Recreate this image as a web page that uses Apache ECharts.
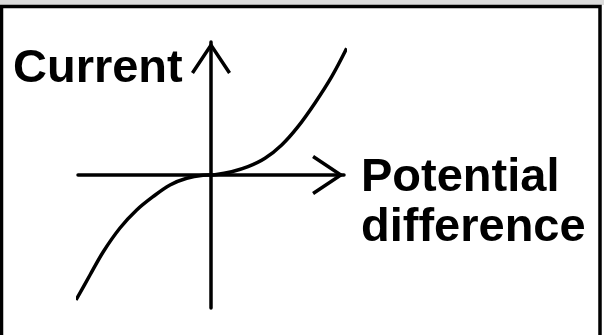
<!DOCTYPE html>
<html>
<head>
<meta charset="utf-8">
<script src="https://cdn.jsdelivr.net/npm/echarts@6/dist/echarts.min.js"></script>
<style>
html,body{margin:0;padding:0;background:#fff;}
#c{width:604px;height:335px;}
</style>
</head>
<body>
<div id="c"></div>
<script>
// Curve (arbitrary units: potential difference vs current)
var voltage = [-13.5, -12.1, -10.77, -9.1, -7.43, -5.8, -4.1, -2.43, -0.8, 0, 0.4, 2.07, 3.7, 5.4, 7.07, 8.7, 10.4, 12.07, 13.57];
var current = [-12.5, -10.0, -7.67, -5.3, -3.5, -2.17, -1.0, -0.33, -0.03, 0, 0.02, 0.33, 0.83, 1.67, 3.0, 4.83, 7.2, 9.83, 12.67];
var axisRange = [-13.3, 13.3];
var labelY = 'Current';
var labelX = ['Potential', 'difference'];

var pts = voltage.map(function (v, i) { return [v, current[i]]; });
var chevron = 'path://M20,0 L40,29.95 L37.09,31.89 L20,6.3 L2.91,31.89 L0,29.95 Z';
var FONT = 'bold 47px "Liberation Sans", Arial, sans-serif';

var axisCommon = {
  type: 'value',
  min: axisRange[0],
  max: axisRange[1],
  axisLine: {
    show: true,
    onZero: true,
    symbol: ['none', chevron],
    symbolSize: [40, 31.9],
    symbolOffset: [0, -15.95],
    lineStyle: { color: '#000', width: 3.5 }
  },
  axisTick: { show: false },
  axisLabel: { show: false },
  splitLine: { show: false }
};

var chart = echarts.init(document.getElementById('c'), null, { renderer: 'canvas' });
chart.setOption({
  animation: false,
  backgroundColor: '#fff',
  grid: { left: 78, top: 42, width: 266, height: 266 },
  xAxis: axisCommon,
  yAxis: axisCommon,
  series: [{
    type: 'line',
    data: pts,
    clip: false,
    smooth: 0.35,
    symbol: 'none',
    lineStyle: { color: '#000', width: 3.5 }
  }],
  graphic: [
    { type: 'rect', shape: { x: 0, y: 0, width: 604, height: 5 }, style: { fill: '#dcdcdc' }, silent: true },
    { type: 'rect', shape: { x: 1.5, y: 6.5, width: 598.5, height: 400 }, style: { fill: 'none', stroke: '#000', lineWidth: 3.5 }, silent: true },
    { type: 'text', x: 13, y: 69.5, style: { text: labelY, font: FONT, fill: '#000', textVerticalAlign: 'middle' }, silent: true },
    { type: 'text', x: 361, y: 178, style: { text: labelX[0], font: FONT, fill: '#000', textVerticalAlign: 'middle' }, silent: true },
    { type: 'text', x: 361, y: 227.7, style: { text: labelX[1], font: FONT, fill: '#000', textVerticalAlign: 'middle' }, silent: true }
  ]
});
</script>
</body>
</html>
